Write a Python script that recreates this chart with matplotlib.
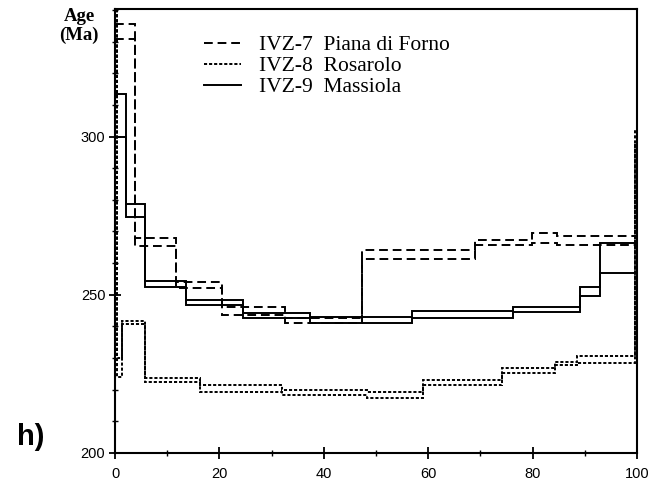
import matplotlib.pyplot as plt
from matplotlib.ticker import MultipleLocator

# cumulative % 39Ar released (step edges) and upper/lower apparent ages (Ma)
ivz7_edges = [0, 3.8, 11.7, 20.5, 32.6, 47.3, 69.0, 79.9, 84.7, 100]
ivz7_upper = [335.6, 268.0, 254.1, 246.2, 242.7, 264.0, 267.3, 269.6, 268.6]
ivz7_lower = [330.9, 265.4, 252.2, 243.6, 241.1, 261.4, 265.8, 266.4, 265.8]

ivz8_edges = [0, 0.4, 1.3, 5.75, 16.3, 32.0, 48.3, 59.0, 74.1, 84.3, 88.5, 99.6, 100]
ivz8_upper = [360, 230.0, 241.7, 223.7, 221.5, 219.9, 219.3, 223.1, 226.9, 228.8, 230.7, 302]
ivz8_lower = [345, 224.0, 240.8, 222.4, 219.3, 218.3, 217.4, 221.5, 225.3, 227.8, 228.5, 298]

ivz9_edges = [0, 2.1, 5.75, 13.6, 24.5, 37.4, 56.9, 76.2, 89.1, 92.9, 100]
ivz9_upper = [313.5, 278.7, 254.4, 248.4, 244.3, 243.0, 244.9, 246.2, 252.5, 266.4]
ivz9_lower = [300.0, 274.6, 252.5, 246.8, 242.7, 241.1, 242.7, 244.6, 249.6, 256.9]

labels = ['IVZ-7  Piana di Forno', 'IVZ-8  Rosarolo', 'IVZ-9  Massiola']

W, H = 654, 488
fig = plt.figure(figsize=(W / 100, H / 100), dpi=100)
ax = fig.add_axes([115 / W, 1 - 453 / H, (637 - 115) / W, (453 - 9) / H])

lw = 1.4
dash7 = (0, (4.5, 2.5))
dot8 = (0, (1.6, 1.0))

series = [
    (ivz7_edges, ivz7_upper, ivz7_lower, dash7),
    (ivz8_edges, ivz8_upper, ivz8_lower, dot8),
    (ivz9_edges, ivz9_upper, ivz9_lower, '-'),
]
handles = []
for edges, up, lo, ls in series:
    h = ax.stairs(up, edges, baseline=None, color='black', lw=lw, linestyle=ls)
    ax.stairs(lo, edges, baseline=None, color='black', lw=lw, linestyle=ls)
    handles.append(h)

ax.set_xlim(0, 100)
ax.set_ylim(200, 340.3)
ax.xaxis.set_major_locator(MultipleLocator(20))
ax.xaxis.set_minor_locator(MultipleLocator(10))
ax.yaxis.set_major_locator(MultipleLocator(50))
ax.yaxis.set_minor_locator(MultipleLocator(10))
ax.tick_params(which='major', direction='inout', length=8, width=1.3)
ax.tick_params(which='minor', direction='inout', length=4, width=1.0)
ax.tick_params(labelsize=10.5)
ax.tick_params(axis='x', pad=6)
ax.tick_params(axis='y', pad=3)
for lab in ax.get_xticklabels() + ax.get_yticklabels():
    lab.set_family('Liberation Sans')
for sp in ax.spines.values():
    sp.set_linewidth(1.5)

leg = ax.legend(handles, labels, loc='upper left', bbox_to_anchor=(0.134, 0.985),
                frameon=False, handlelength=1.72, handletextpad=0.84, labelspacing=0.05,
                prop={'family': 'Liberation Serif', 'size': 15.5})
for line in leg.get_lines():
    line.set_linewidth(lw)

fig.text(79 / W, 1 - 8 / H, 'Age\n(Ma)', ha='center', va='top', family='Liberation Serif',
         weight='bold', fontsize=13.5, linespacing=1.1)
fig.text(31 / W, 1 - 437 / H, 'h)', ha='center', va='center', family='Liberation Sans',
         weight='bold', fontsize=21)

fig.savefig('out.png', dpi=100)
